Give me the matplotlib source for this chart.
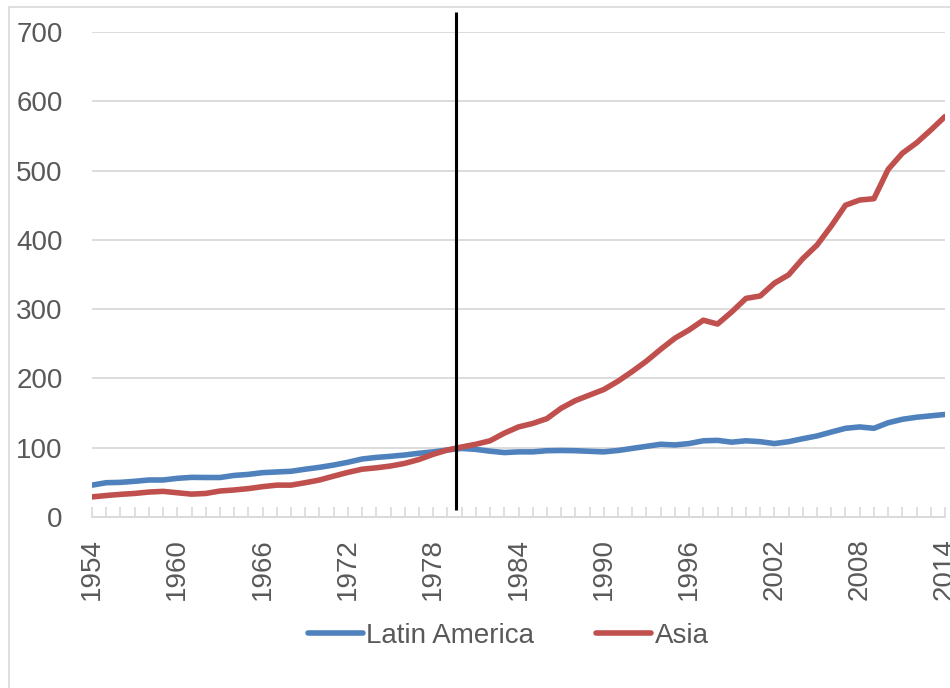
import numpy as np
import matplotlib
matplotlib.use('Agg')
from matplotlib import pyplot as plt
from matplotlib.patches import Rectangle

years = list(range(1954, 2015))

# index values (1980 ~ 100)
latin_america = [46, 49.5, 50, 51.5, 53.4, 53.4, 55.8, 57.2, 57, 57,
                 60, 61.5, 64, 65, 66, 69, 71.7, 75, 79, 83.7,
                 86, 87.6, 89.5, 92, 94, 96.7, 99, 97.6, 95, 93,
                 94, 94, 95.7, 96, 95.7, 94.8, 94, 96, 99, 102,
                 105, 104, 106, 110, 110.6, 108, 110, 108.7, 106, 108.7,
                 113, 117, 122.6, 128, 130, 128, 136, 141, 144, 146,
                 148]
asia = [29, 31, 32.7, 34, 36, 37, 35, 33, 34, 37.5,
        39, 41, 43.8, 46, 46, 49.5, 53.4, 59, 64.4, 69,
        71, 73.6, 77.4, 83, 90.5, 96.7, 101, 105, 110, 121,
        130, 135, 142, 157, 168, 176, 184, 196, 210, 225,
        242, 258, 270, 284, 278.5, 296, 315.5, 319, 337.5, 349.5,
        373, 392.5, 420, 450, 457.5, 459.4, 501.7, 525, 540, 558.5,
        578]
series_names = ['Latin America', 'Asia']
xtick_years = list(range(1954, 2015, 6))
yticks = list(range(0, 701, 100))
marker_year = 1979.6

plt.rcParams['font.family'] = ['Liberation Sans', 'DejaVu Sans']

fig = plt.figure(figsize=(9.5, 6.88), dpi=100)
# light chart border (runs off the right and bottom of the image)
fig.patches.append(Rectangle((9/950, -0.2), 1.2, 1.2 - 7/688,
                             transform=fig.transFigure, fill=False,
                             edgecolor='#D9D9D9', linewidth=1.2))
ax = fig.add_axes([92/950, 1-517/688, 853/950, 485/688])

ax.plot(years, latin_america, color='#4F81BD', lw=4, label=series_names[0],
        solid_capstyle='round', solid_joinstyle='round')
ax.plot(years, asia, color='#C0504D', lw=4, label=series_names[1],
        solid_capstyle='round', solid_joinstyle='round')
ax.vlines(marker_year, 10, 729, color='black', lw=2.2, clip_on=False, zorder=5)

ax.set_xlim(1954, 2014)
ax.set_ylim(0, 700)
ax.set_yticks(yticks)
ax.set_xticks(xtick_years)
ax.set_xticks(years, minor=True)
ax.set_xticklabels([str(y) for y in xtick_years], rotation=90)

ax.grid(axis='y', color='#D9D9D9', lw=1.3)
ax.set_axisbelow(True)
for s in ['left', 'right', 'top']:
    ax.spines[s].set_visible(False)
ax.spines['bottom'].set_color('#D9D9D9')
ax.spines['bottom'].set_linewidth(1.3)

ax.tick_params(axis='y', length=0, pad=21, labelsize=20, labelcolor='#595959')
ax.tick_params(axis='x', which='both', direction='in', length=7, width=1.2,
               color='#D9D9D9', pad=15, labelsize=20, labelcolor='#595959')

leg = fig.legend(loc='center', bbox_to_anchor=(508/950, 1-636/688), ncol=2,
                 frameon=False, fontsize=20, handlelength=2.0,
                 handletextpad=0.12, columnspacing=2.2)
for t in leg.get_texts():
    t.set_color('#595959')

fig.savefig('out.png', dpi=100)
